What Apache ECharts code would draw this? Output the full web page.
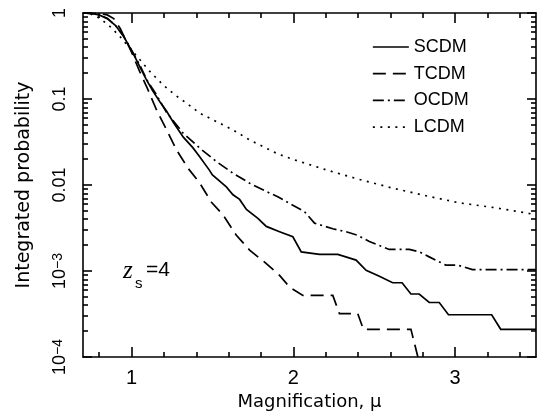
<!DOCTYPE html>
<html><head><meta charset="utf-8">
<script src="https://cdn.jsdelivr.net/npm/echarts@6/dist/echarts.min.js"></script>
<style>html,body{margin:0;padding:0;background:#fff}#c{width:539px;height:412px}</style>
</head><body><div id="c"></div>
<script>
// ---- data ----
const seriesNames = ['SCDM', 'TCDM', 'OCDM', 'LCDM'];

const scdmX = [0.70, 0.76, 0.80, 0.85, 0.90, 0.95, 1.01, 1.05, 1.09, 1.13, 1.175, 1.215, 1.26, 1.32, 1.38, 1.42, 1.48, 1.50, 1.586, 1.627, 1.668, 1.71, 1.781, 1.833, 1.915, 1.997, 2.049, 2.162, 2.275, 2.388, 2.45, 2.532, 2.614, 2.672, 2.727, 2.778, 2.84, 2.902, 2.959, 3.226, 3.282, 3.5];
const scdmY = [1.0, 0.98, 0.95, 0.86, 0.72, 0.54, 0.34, 0.24, 0.17, 0.125, 0.093, 0.073, 0.053, 0.036, 0.027, 0.0214, 0.015, 0.0131, 0.0095, 0.0077, 0.0068, 0.0052, 0.0041, 0.0033, 0.00286, 0.0025, 0.00167, 0.00156, 0.00156, 0.00134, 0.00102, 0.00087, 0.00073, 0.00073, 0.00054, 0.00054, 0.00043, 0.00043, 0.00031, 0.00031, 0.00021, 0.00021];

const tcdmX = [0.70, 0.80, 0.85, 0.89, 0.93, 0.97, 1.00, 1.05, 1.10, 1.154, 1.216, 1.278, 1.349, 1.422, 1.494, 1.565, 1.648, 1.73, 1.833, 1.915, 1.977, 2.059, 2.244, 2.285, 2.398, 2.433, 2.727, 2.77];
const tcdmY = [1.0, 0.99, 0.95, 0.86, 0.66, 0.46, 0.35, 0.21, 0.13, 0.075, 0.044, 0.0256, 0.0157, 0.0105, 0.0063, 0.0045, 0.0026, 0.00175, 0.00122, 0.00089, 0.00065, 0.00052, 0.00052, 0.00032, 0.00032, 0.00021, 0.00021, 0.0001];

const ocdmX = [0.70, 0.76, 0.80, 0.85, 0.90, 0.95, 1.00, 1.05, 1.10, 1.15, 1.216, 1.319, 1.422, 1.525, 1.627, 1.73, 1.833, 1.904, 1.977, 2.069, 2.131, 2.244, 2.326, 2.398, 2.47, 2.593, 2.717, 2.778, 2.84, 2.943, 3.015, 3.107, 3.5];
const ocdmY = [1.0, 0.98, 0.95, 0.87, 0.72, 0.54, 0.37, 0.25, 0.16, 0.115, 0.07, 0.040, 0.0268, 0.0187, 0.0137, 0.0105, 0.0084, 0.0073, 0.0061, 0.0049, 0.0036, 0.0031, 0.00286, 0.0026, 0.0022, 0.00178, 0.00178, 0.00167, 0.00146, 0.00117, 0.00117, 0.00104, 0.00104];

const lcdmX = [0.70, 0.75, 0.794, 0.856, 0.928, 1.00, 1.052, 1.113, 1.195, 1.267, 1.34, 1.422, 1.525, 1.627, 1.73, 1.833, 1.904, 1.997, 2.203, 2.408, 2.614, 2.82, 3.025, 3.23, 3.436, 3.5];
const lcdmY = [1.0, 0.97, 0.89, 0.73, 0.534, 0.37, 0.286, 0.209, 0.146, 0.112, 0.0895, 0.0684, 0.0546, 0.0437, 0.0334, 0.0268, 0.023, 0.0199, 0.015, 0.0116, 0.0092, 0.0075, 0.0062, 0.0055, 0.00475, 0.0045];

const xMajorTicks = [1, 2, 3];
const xMinorTicks = [0.8, 1.2, 1.4, 1.6, 1.8, 2.2, 2.4, 2.6, 2.8, 3.2, 3.4];
const yDecadeExponents = [-4, -3, -2, -1, 0];
const yTickLabels = {'-4': '10{sup|\u22124}', '-3': '10{sup|\u22123}', '-2': '0.01', '-1': '0.1', '0': '1'};
const xAxisTitle = 'Magnification, \u03bc';
const yAxisTitle = 'Integrated probability';
const annotationParts = ['z', 's', '=4'];

// ---- build ----
const FONT = 'Liberation Sans';
const NAME_FONT = 'DejaVu Sans';
const BLACK = '#000';
const zip = (xs, ys) => xs.map((x, i) => [x, ys[i]]);
const minorLog = [];
yDecadeExponents.slice(0, -1).forEach(e => {
  for (let k = 2; k <= 9; k++) minorLog.push(e + Math.log10(k));
});

const lineAx = {show: true, onZero: false, lineStyle: {color: BLACK, width: 1.6}};
const noLine = {show: false, onZero: false};

function xAx(pos, ticks, len, showLine, extra) {
  return Object.assign({
    type: 'value', position: pos, min: 0.7, max: 3.5,
    axisLine: showLine ? lineAx : noLine,
    axisTick: {show: true, inside: true, length: len, customValues: ticks, lineStyle: {color: BLACK, width: 1.6}},
    axisLabel: {show: false},
    splitLine: {show: false}
  }, extra || {});
}

const option = {
  animation: false,
  backgroundColor: '#fff',
  grid: {left: 83, right: 3, top: 13, bottom: 55, containLabel: false, outerBoundsMode: 'none'},
  legend: {
    data: seriesNames, orient: 'vertical', left: 372, top: 38,
    itemWidth: 36, itemHeight: 14, itemGap: 8.7, padding: 0,
    itemStyle: {opacity: 0, borderWidth: 0},
    lineStyle: {width: 1.7},
    textStyle: {fontSize: 18, color: BLACK, fontFamily: FONT}
  },
  xAxis: [
    xAx('bottom', xMajorTicks, 10, true, {
      axisLabel: {show: true, customValues: xMajorTicks, margin: 11, fontSize: 20, color: BLACK, fontFamily: FONT},
      name: xAxisTitle, nameLocation: 'middle', nameGap: 35,
      nameTextStyle: {fontSize: 18, color: BLACK, fontFamily: NAME_FONT}
    }),
    xAx('bottom', xMinorTicks, 5, false),
    xAx('top', xMajorTicks, 10, true),
    xAx('top', xMinorTicks, 5, false)
  ],
  yAxis: [
    {
      type: 'log', logBase: 10, min: 1e-4, max: 1, position: 'left',
      axisLine: lineAx,
      axisTick: {show: true, inside: true, length: 9, lineStyle: {color: BLACK, width: 1.6}},
      axisLabel: {
        rotate: 90, margin: 14, fontSize: 18, color: BLACK, fontFamily: FONT,
        formatter: v => yTickLabels[String(Math.round(Math.log10(v)))] || '',
        rich: {
          sup: {fontSize: 14, color: BLACK, fontFamily: FONT, verticalAlign: 'top', lineHeight: 14, padding: [0, 0, 8, 0]}
        }
      },
      splitLine: {show: false},
      name: yAxisTitle, nameLocation: 'middle', nameGap: 49, nameRotate: 90,
      nameTextStyle: {fontSize: 19, color: BLACK, fontFamily: NAME_FONT}
    },
    {
      type: 'value', min: -4, max: 0, position: 'left',
      axisLine: noLine,
      axisTick: {show: true, inside: true, length: 5, customValues: minorLog, lineStyle: {color: BLACK, width: 1.6}},
      axisLabel: {show: false}, splitLine: {show: false}
    },
    {
      type: 'log', logBase: 10, min: 1e-4, max: 1, position: 'right',
      axisLine: lineAx,
      axisTick: {show: true, inside: true, length: 9, lineStyle: {color: BLACK, width: 1.6}},
      axisLabel: {show: false}, splitLine: {show: false}
    },
    {
      type: 'value', min: -4, max: 0, position: 'right',
      axisLine: noLine,
      axisTick: {show: true, inside: true, length: 5, customValues: minorLog, lineStyle: {color: BLACK, width: 1.6}},
      axisLabel: {show: false}, splitLine: {show: false}
    }
  ],
  series: [
    {name: seriesNames[0], data: zip(scdmX, scdmY), dash: 'solid'},
    {name: seriesNames[1], data: zip(tcdmX, tcdmY), dash: [13, 7]},
    {name: seriesNames[2], data: zip(ocdmX, ocdmY), dash: [11, 4, 2, 4]},
    {name: seriesNames[3], data: zip(lcdmX, lcdmY), dash: [2, 5.5]}
  ].map(s => ({
    type: 'line', name: s.name, data: s.data, xAxisIndex: 0, yAxisIndex: 0,
    symbol: 'none', showSymbol: false, silent: true,
    lineStyle: {color: BLACK, width: 1.7, type: s.dash, cap: 'butt', join: 'miter'},
    itemStyle: {color: BLACK}
  })),
  graphic: [
    {type: 'text', left: 123, top: 259,
     style: {text: annotationParts[0], fontSize: 25, fontStyle: 'italic', fontFamily: 'Liberation Serif', fill: BLACK}},
    {type: 'text', left: 135, top: 276,
     style: {text: annotationParts[1], fontSize: 15, fontFamily: FONT, fill: BLACK}},
    {type: 'text', left: 146, top: 260,
     style: {text: annotationParts[2], fontSize: 21, fontFamily: FONT, fill: BLACK}}
  ]
};

const chart = echarts.init(document.getElementById('c'), null, {renderer: 'canvas'});
chart.setOption(option);
</script>
</body></html>
